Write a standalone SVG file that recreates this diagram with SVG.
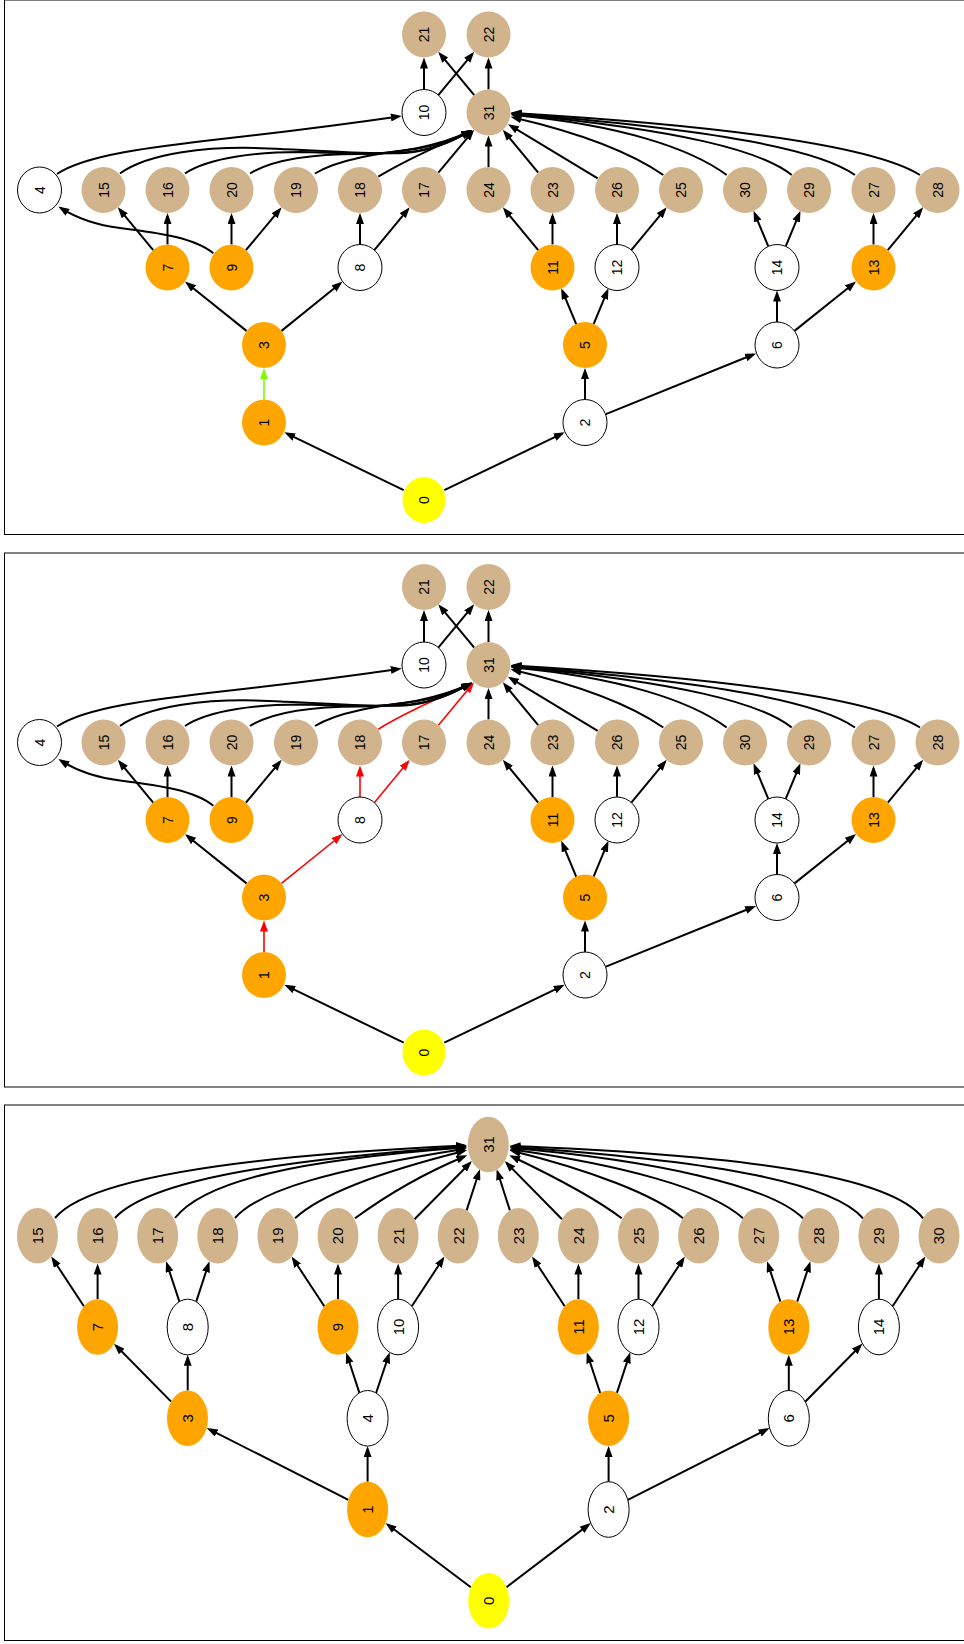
<svg xmlns="http://www.w3.org/2000/svg" width="964" height="1644" viewBox="0 0 964 1644">
<style>
  .frame{fill:none;stroke:#000;stroke-width:1}
  .w{fill:#fff;stroke:#000;stroke-width:1}
  .o{fill:#ffa500}
  .t{fill:#d2b48c}
  .y{fill:#ffff00}
  text{font-family:"Liberation Sans",Arial,sans-serif;font-size:14px;fill:#000;text-anchor:middle}
  .p3 text{font-size:15px}
  .e{fill:none;stroke:#000;stroke-width:2;marker-end:url(#ah)}
  .r{fill:none;stroke:#f00;stroke-width:1.6;marker-end:url(#ahr)}
  .g{fill:none;stroke:#7cfc00;stroke-width:1.6;marker-end:url(#ahg)}
</style>
<defs>
  <marker id="ah" viewBox="0 0 11 8" markerWidth="11" markerHeight="8" refX="8" refY="4" orient="auto" markerUnits="userSpaceOnUse"><path d="M0,0L11,4L0,8z" fill="#000"/></marker>
  <marker id="ahr" viewBox="0 0 11 8" markerWidth="11" markerHeight="8" refX="8" refY="4" orient="auto" markerUnits="userSpaceOnUse"><path d="M0,0L11,4L0,8z" fill="#f00"/></marker>
  <marker id="ahg" viewBox="0 0 11 8" markerWidth="11" markerHeight="8" refX="8" refY="4" orient="auto" markerUnits="userSpaceOnUse"><path d="M0,0L11,4L0,8z" fill="#7cfc00"/></marker>
</defs>
<rect width="964" height="1644" fill="#fff"/>

<!-- frames -->
<rect class="frame" x="4.5" y="0" width="1000" height="534.5"/>
<rect class="frame" x="4.5" y="553" width="1000" height="534"/>
<rect class="frame" x="4.5" y="1105" width="1000" height="535.5"/>

<!-- ===== top graph ===== -->
<g id="graph-a">
  <g id="a-edges">
    <path class="e" d="M403.7,490.2L287,433.6"/>
    <path class="e" d="M444.3,490.2L562,433.6"/>
    <path class="g" d="M264,399.5L264,371"/>
    <path class="e" d="M585,399.5L585,371"/>
    <path class="e" d="M605.9,414.1L753.3,354.5"/>
    <path class="e" d="M246.5,330.9L187.3,283.5"/>
    <path class="e" d="M281.5,330.9L340.2,283.5"/>
    <path class="e" d="M576.3,324.3L562.4,291"/>
    <path class="e" d="M593.6,324.2L607.3,291.1"/>
    <path class="e" d="M777,322L777,293.5"/>
    <path class="e" d="M794.5,330.9L853.7,283.5"/>
    <path class="e" d="M153.2,250.2L119.7,209.6"/>
    <path class="e" d="M167.5,244.5L167.5,216"/>
    <path class="e" d="M231.5,244.5L231.5,216"/>
    <path class="e" d="M245.9,250.2L279.7,209.6"/>
    <path class="e" d="M213.3,253.3C195,238 160,233 120,228C95,225 78,219 60.9,208.2"/>
    <path class="e" d="M360,244.5L360,216"/>
    <path class="e" d="M374.3,250.2L407.8,209.6"/>
    <path class="e" d="M538.2,250.2L504.7,209.6"/>
    <path class="e" d="M552.5,244.5L552.5,216"/>
    <path class="e" d="M617,244.5L617,216"/>
    <path class="e" d="M631.3,250.2L664.8,209.6"/>
    <path class="e" d="M768.4,246.7L754.7,213.6"/>
    <path class="e" d="M785.6,246.7L799.3,213.6"/>
    <path class="e" d="M873.5,244.5L873.5,216"/>
    <path class="e" d="M887.8,250.2L921.3,209.6"/>
    <path class="e" d="M57,174C85,155 150,147 230,138C300,130 360,122 398.8,116.4"/>
    <path class="e" d="M424,89.5L424,60.5"/>
    <path class="e" d="M438.3,95.2L472.3,54.1"/>
    <path class="e" d="M474.2,95.2L440.2,54.1"/>
    <path class="e" d="M488.5,89.5L488.5,60.5"/>
    <path class="e" d="M488.5,167L488.5,138.5"/>
    <path class="e" d="M538.2,172.7L504.7,132.1"/>
    <path class="e" d="M438.4,172.7L472.2,132.1"/>
    <path class="e" d="M378.3,176.7C405,160 440,145 469.5,131.5"/>
    <path class="e" d="M315,173.5C340,158 385,153 415,149C440,145 455,139 469.5,131.5"/>
    <path class="e" d="M250,173.5C275,158 320,154 360,154C395,154 440,146 469.5,131.5"/>
    <path class="e" d="M185,173.5C210,157 260,152 300,152C345,153 380,155 410,152C435,149 452,141 469.5,131.5"/>
    <path class="e" d="M120,173.5C150,152 210,147 255,148C320,150 370,155 405,153C432,151 452,141 469.5,131.5"/>
    <path class="e" d="M597.7,178.4L510.4,125.7"/>
    <path class="e" d="M663.3,175C630,152 580,133 513.4,117.5"/>
    <path class="e" d="M726.7,175C690,148 620,125 513.5,115"/>
    <path class="e" d="M791.7,175C760,150 680,130 513.5,114"/>
    <path class="e" d="M855,175C820,150 720,130 513.5,113.5"/>
    <path class="e" d="M920,175C880,150 760,128 513.5,113"/>
  </g>
  <g id="a-n21" transform="translate(424,34.5)"><ellipse class="t" rx="22" ry="23"/><text transform="rotate(-90)" dy="0.36em">21</text></g>
  <g id="a-n22" transform="translate(488.5,34.5)"><ellipse class="t" rx="22" ry="23"/><text transform="rotate(-90)" dy="0.36em">22</text></g>
  <g id="a-n10" transform="translate(424,112.5)"><ellipse class="w" rx="22" ry="23"/><text transform="rotate(-90)" dy="0.36em">10</text></g>
  <g id="a-n31" transform="translate(488.5,112.5)"><ellipse class="t" rx="22" ry="23"/><text transform="rotate(-90)" dy="0.36em">31</text></g>
  <g id="a-n4" transform="translate(39.5,190)"><ellipse class="w" rx="22" ry="23"/><text transform="rotate(-90)" dy="0.36em">4</text></g>
  <g id="a-n15" transform="translate(103.5,190)"><ellipse class="t" rx="22" ry="23"/><text transform="rotate(-90)" dy="0.36em">15</text></g>
  <g id="a-n16" transform="translate(167.5,190)"><ellipse class="t" rx="22" ry="23"/><text transform="rotate(-90)" dy="0.36em">16</text></g>
  <g id="a-n20" transform="translate(231.5,190)"><ellipse class="t" rx="22" ry="23"/><text transform="rotate(-90)" dy="0.36em">20</text></g>
  <g id="a-n19" transform="translate(296,190)"><ellipse class="t" rx="22" ry="23"/><text transform="rotate(-90)" dy="0.36em">19</text></g>
  <g id="a-n18" transform="translate(360,190)"><ellipse class="t" rx="22" ry="23"/><text transform="rotate(-90)" dy="0.36em">18</text></g>
  <g id="a-n17" transform="translate(424,190)"><ellipse class="t" rx="22" ry="23"/><text transform="rotate(-90)" dy="0.36em">17</text></g>
  <g id="a-n24" transform="translate(488.5,190)"><ellipse class="t" rx="22" ry="23"/><text transform="rotate(-90)" dy="0.36em">24</text></g>
  <g id="a-n23" transform="translate(552.5,190)"><ellipse class="t" rx="22" ry="23"/><text transform="rotate(-90)" dy="0.36em">23</text></g>
  <g id="a-n26" transform="translate(617,190)"><ellipse class="t" rx="22" ry="23"/><text transform="rotate(-90)" dy="0.36em">26</text></g>
  <g id="a-n25" transform="translate(681,190)"><ellipse class="t" rx="22" ry="23"/><text transform="rotate(-90)" dy="0.36em">25</text></g>
  <g id="a-n30" transform="translate(745,190)"><ellipse class="t" rx="22" ry="23"/><text transform="rotate(-90)" dy="0.36em">30</text></g>
  <g id="a-n29" transform="translate(809,190)"><ellipse class="t" rx="22" ry="23"/><text transform="rotate(-90)" dy="0.36em">29</text></g>
  <g id="a-n27" transform="translate(873.5,190)"><ellipse class="t" rx="22" ry="23"/><text transform="rotate(-90)" dy="0.36em">27</text></g>
  <g id="a-n28" transform="translate(937.5,190)"><ellipse class="t" rx="22" ry="23"/><text transform="rotate(-90)" dy="0.36em">28</text></g>
  <g id="a-n7" transform="translate(167.5,267.5)"><ellipse class="o" rx="22" ry="23"/><text transform="rotate(-90)" dy="0.36em">7</text></g>
  <g id="a-n9" transform="translate(231.5,267.5)"><ellipse class="o" rx="22" ry="23"/><text transform="rotate(-90)" dy="0.36em">9</text></g>
  <g id="a-n8" transform="translate(360,267.5)"><ellipse class="w" rx="22" ry="23"/><text transform="rotate(-90)" dy="0.36em">8</text></g>
  <g id="a-n11" transform="translate(552.5,267.5)"><ellipse class="o" rx="22" ry="23"/><text transform="rotate(-90)" dy="0.36em">11</text></g>
  <g id="a-n12" transform="translate(617,267.5)"><ellipse class="w" rx="22" ry="23"/><text transform="rotate(-90)" dy="0.36em">12</text></g>
  <g id="a-n14" transform="translate(777,267.5)"><ellipse class="w" rx="22" ry="23"/><text transform="rotate(-90)" dy="0.36em">14</text></g>
  <g id="a-n13" transform="translate(873.5,267.5)"><ellipse class="o" rx="22" ry="23"/><text transform="rotate(-90)" dy="0.36em">13</text></g>
  <g id="a-n3" transform="translate(264,345)"><ellipse class="o" rx="22" ry="23"/><text transform="rotate(-90)" dy="0.36em">3</text></g>
  <g id="a-n5" transform="translate(585,345)"><ellipse class="o" rx="22" ry="23"/><text transform="rotate(-90)" dy="0.36em">5</text></g>
  <g id="a-n6" transform="translate(777,345)"><ellipse class="w" rx="22" ry="23"/><text transform="rotate(-90)" dy="0.36em">6</text></g>
  <g id="a-n1" transform="translate(264,422.5)"><ellipse class="o" rx="22" ry="23"/><text transform="rotate(-90)" dy="0.36em">1</text></g>
  <g id="a-n2" transform="translate(585,422.5)"><ellipse class="w" rx="22" ry="23"/><text transform="rotate(-90)" dy="0.36em">2</text></g>
  <g id="a-n0" transform="translate(424,500)"><ellipse class="y" rx="21.5" ry="23"/><text transform="rotate(-90)" dy="0.36em">0</text></g>
</g>

<!-- ===== middle graph (same layout, highlighted path in red) ===== -->
<g id="graph-b" transform="translate(0,552.5)">
  <g id="b-edges">
    <path class="e" d="M403.7,490.2L287,433.6"/>
    <path class="e" d="M444.3,490.2L562,433.6"/>
    <path class="r" d="M264,399.5L264,371"/>
    <path class="e" d="M585,399.5L585,371"/>
    <path class="e" d="M605.9,414.1L753.3,354.5"/>
    <path class="e" d="M246.5,330.9L187.3,283.5"/>
    <path class="r" d="M281.5,330.9L340.2,283.5"/>
    <path class="e" d="M576.3,324.3L562.4,291"/>
    <path class="e" d="M593.6,324.2L607.3,291.1"/>
    <path class="e" d="M777,322L777,293.5"/>
    <path class="e" d="M794.5,330.9L853.7,283.5"/>
    <path class="e" d="M153.2,250.2L119.7,209.6"/>
    <path class="e" d="M167.5,244.5L167.5,216"/>
    <path class="e" d="M231.5,244.5L231.5,216"/>
    <path class="e" d="M245.9,250.2L279.7,209.6"/>
    <path class="e" d="M213.3,253.3C195,238 160,233 120,228C95,225 78,219 60.9,208.2"/>
    <path class="r" d="M360,244.5L360,216"/>
    <path class="r" d="M374.3,250.2L407.8,209.6"/>
    <path class="e" d="M538.2,250.2L504.7,209.6"/>
    <path class="e" d="M552.5,244.5L552.5,216"/>
    <path class="e" d="M617,244.5L617,216"/>
    <path class="e" d="M631.3,250.2L664.8,209.6"/>
    <path class="e" d="M768.4,246.7L754.7,213.6"/>
    <path class="e" d="M785.6,246.7L799.3,213.6"/>
    <path class="e" d="M873.5,244.5L873.5,216"/>
    <path class="e" d="M887.8,250.2L921.3,209.6"/>
    <path class="e" d="M57,174C85,155 150,147 230,138C300,130 360,122 398.8,116.4"/>
    <path class="e" d="M424,89.5L424,60.5"/>
    <path class="e" d="M438.3,95.2L472.3,54.1"/>
    <path class="e" d="M474.2,95.2L440.2,54.1"/>
    <path class="e" d="M488.5,89.5L488.5,60.5"/>
    <path class="e" d="M488.5,167L488.5,138.5"/>
    <path class="e" d="M538.2,172.7L504.7,132.1"/>
    <path class="r" d="M438.4,172.7L472.2,132.1"/>
    <path class="r" d="M378.3,176.7C405,160 440,145 469.5,131.5"/>
    <path class="e" d="M315,173.5C340,158 385,153 415,149C440,145 455,139 469.5,131.5"/>
    <path class="e" d="M250,173.5C275,158 320,154 360,154C395,154 440,146 469.5,131.5"/>
    <path class="e" d="M185,173.5C210,157 260,152 300,152C345,153 380,155 410,152C435,149 452,141 469.5,131.5"/>
    <path class="e" d="M120,173.5C150,152 210,147 255,148C320,150 370,155 405,153C432,151 452,141 469.5,131.5"/>
    <path class="e" d="M597.7,178.4L510.4,125.7"/>
    <path class="e" d="M663.3,175C630,152 580,133 513.4,117.5"/>
    <path class="e" d="M726.7,175C690,148 620,125 513.5,115"/>
    <path class="e" d="M791.7,175C760,150 680,130 513.5,114"/>
    <path class="e" d="M855,175C820,150 720,130 513.5,113.5"/>
    <path class="e" d="M920,175C880,150 760,128 513.5,113"/>
  </g>
  <g id="b-n21" transform="translate(424,34.5)"><ellipse class="t" rx="22" ry="23"/><text transform="rotate(-90)" dy="0.36em">21</text></g>
  <g id="b-n22" transform="translate(488.5,34.5)"><ellipse class="t" rx="22" ry="23"/><text transform="rotate(-90)" dy="0.36em">22</text></g>
  <g id="b-n10" transform="translate(424,112.5)"><ellipse class="w" rx="22" ry="23"/><text transform="rotate(-90)" dy="0.36em">10</text></g>
  <g id="b-n31" transform="translate(488.5,112.5)"><ellipse class="t" rx="22" ry="23"/><text transform="rotate(-90)" dy="0.36em">31</text></g>
  <g id="b-n4" transform="translate(39.5,190)"><ellipse class="w" rx="22" ry="23"/><text transform="rotate(-90)" dy="0.36em">4</text></g>
  <g id="b-n15" transform="translate(103.5,190)"><ellipse class="t" rx="22" ry="23"/><text transform="rotate(-90)" dy="0.36em">15</text></g>
  <g id="b-n16" transform="translate(167.5,190)"><ellipse class="t" rx="22" ry="23"/><text transform="rotate(-90)" dy="0.36em">16</text></g>
  <g id="b-n20" transform="translate(231.5,190)"><ellipse class="t" rx="22" ry="23"/><text transform="rotate(-90)" dy="0.36em">20</text></g>
  <g id="b-n19" transform="translate(296,190)"><ellipse class="t" rx="22" ry="23"/><text transform="rotate(-90)" dy="0.36em">19</text></g>
  <g id="b-n18" transform="translate(360,190)"><ellipse class="t" rx="22" ry="23"/><text transform="rotate(-90)" dy="0.36em">18</text></g>
  <g id="b-n17" transform="translate(424,190)"><ellipse class="t" rx="22" ry="23"/><text transform="rotate(-90)" dy="0.36em">17</text></g>
  <g id="b-n24" transform="translate(488.5,190)"><ellipse class="t" rx="22" ry="23"/><text transform="rotate(-90)" dy="0.36em">24</text></g>
  <g id="b-n23" transform="translate(552.5,190)"><ellipse class="t" rx="22" ry="23"/><text transform="rotate(-90)" dy="0.36em">23</text></g>
  <g id="b-n26" transform="translate(617,190)"><ellipse class="t" rx="22" ry="23"/><text transform="rotate(-90)" dy="0.36em">26</text></g>
  <g id="b-n25" transform="translate(681,190)"><ellipse class="t" rx="22" ry="23"/><text transform="rotate(-90)" dy="0.36em">25</text></g>
  <g id="b-n30" transform="translate(745,190)"><ellipse class="t" rx="22" ry="23"/><text transform="rotate(-90)" dy="0.36em">30</text></g>
  <g id="b-n29" transform="translate(809,190)"><ellipse class="t" rx="22" ry="23"/><text transform="rotate(-90)" dy="0.36em">29</text></g>
  <g id="b-n27" transform="translate(873.5,190)"><ellipse class="t" rx="22" ry="23"/><text transform="rotate(-90)" dy="0.36em">27</text></g>
  <g id="b-n28" transform="translate(937.5,190)"><ellipse class="t" rx="22" ry="23"/><text transform="rotate(-90)" dy="0.36em">28</text></g>
  <g id="b-n7" transform="translate(167.5,267.5)"><ellipse class="o" rx="22" ry="23"/><text transform="rotate(-90)" dy="0.36em">7</text></g>
  <g id="b-n9" transform="translate(231.5,267.5)"><ellipse class="o" rx="22" ry="23"/><text transform="rotate(-90)" dy="0.36em">9</text></g>
  <g id="b-n8" transform="translate(360,267.5)"><ellipse class="w" rx="22" ry="23"/><text transform="rotate(-90)" dy="0.36em">8</text></g>
  <g id="b-n11" transform="translate(552.5,267.5)"><ellipse class="o" rx="22" ry="23"/><text transform="rotate(-90)" dy="0.36em">11</text></g>
  <g id="b-n12" transform="translate(617,267.5)"><ellipse class="w" rx="22" ry="23"/><text transform="rotate(-90)" dy="0.36em">12</text></g>
  <g id="b-n14" transform="translate(777,267.5)"><ellipse class="w" rx="22" ry="23"/><text transform="rotate(-90)" dy="0.36em">14</text></g>
  <g id="b-n13" transform="translate(873.5,267.5)"><ellipse class="o" rx="22" ry="23"/><text transform="rotate(-90)" dy="0.36em">13</text></g>
  <g id="b-n3" transform="translate(264,345)"><ellipse class="o" rx="22" ry="23"/><text transform="rotate(-90)" dy="0.36em">3</text></g>
  <g id="b-n5" transform="translate(585,345)"><ellipse class="o" rx="22" ry="23"/><text transform="rotate(-90)" dy="0.36em">5</text></g>
  <g id="b-n6" transform="translate(777,345)"><ellipse class="w" rx="22" ry="23"/><text transform="rotate(-90)" dy="0.36em">6</text></g>
  <g id="b-n1" transform="translate(264,422.5)"><ellipse class="o" rx="22" ry="23"/><text transform="rotate(-90)" dy="0.36em">1</text></g>
  <g id="b-n2" transform="translate(585,422.5)"><ellipse class="w" rx="22" ry="23"/><text transform="rotate(-90)" dy="0.36em">2</text></g>
  <g id="b-n0" transform="translate(424,500)"><ellipse class="y" rx="21.5" ry="23"/><text transform="rotate(-90)" dy="0.36em">0</text></g>
</g>

<!-- ===== bottom graph (binomial tree) ===== -->
<g id="graph-c" class="p3">
  <g id="c-edges">
    <path class="e" d="M470.8,1587.3L387.9,1524.8"/>
    <path class="e" d="M506.5,1587.2L588.4,1524.9"/>
    <path class="e" d="M367.6,1481.7L367.6,1449.1"/>
    <path class="e" d="M348.4,1499.8L209.4,1429.4"/>
    <path class="e" d="M608.6,1481.7L608.6,1449.1"/>
    <path class="e" d="M627.8,1499.8L766.9,1429.4"/>
    <path class="e" d="M171.1,1401.6L116.1,1345.8"/>
    <path class="e" d="M187.7,1390.5L187.7,1357.8"/>
    <path class="e" d="M359.4,1392.9L347.1,1355.3"/>
    <path class="e" d="M376.1,1393L388.7,1355.2"/>
    <path class="e" d="M600.2,1393L587.7,1355.1"/>
    <path class="e" d="M616.9,1392.9L629.3,1355.2"/>
    <path class="e" d="M788.8,1390.5L788.8,1357.8"/>
    <path class="e" d="M805.2,1401.7L860.4,1345.7"/>
    <path class="e" d="M83.9,1306.3L52.85,1259"/>
    <path class="e" d="M97.6,1299.2L97.6,1266.6"/>
    <path class="e" d="M179.4,1301.6L167,1264.1"/>
    <path class="e" d="M196.2,1301.6L208.5,1264.1"/>
    <path class="e" d="M324.3,1306.3L293.25,1259"/>
    <path class="e" d="M338,1299.2L338,1266.6"/>
    <path class="e" d="M398.1,1299.2L398.1,1266.6"/>
    <path class="e" d="M411.8,1306.3L442.85,1259"/>
    <path class="e" d="M564.7,1306.3L533.65,1259"/>
    <path class="e" d="M578.4,1299.2L578.4,1266.6"/>
    <path class="e" d="M638.5,1299.2L638.5,1266.6"/>
    <path class="e" d="M652.2,1306.3L683.25,1259"/>
    <path class="e" d="M780.4,1301.6L768,1264.1"/>
    <path class="e" d="M797.2,1301.6L809.5,1264.1"/>
    <path class="e" d="M878.9,1299.2L878.9,1266.6"/>
    <path class="e" d="M892.6,1306.3L923.65,1259"/>
    <path class="e" d="M55,1218C90,1175 260,1155 464,1145.5"/>
    <path class="e" d="M115,1218C150,1180 280,1160 464,1146.5"/>
    <path class="e" d="M175,1218C205,1180 300,1160 464,1147.5"/>
    <path class="e" d="M235,1218C260,1190 330,1170 464,1149"/>
    <path class="e" d="M295,1218.3C320,1195 380,1172 464,1151"/>
    <path class="e" d="M355,1218.3C380,1200 420,1175 464.5,1156.5"/>
    <path class="e" d="M414.5,1219.2L469.8,1163.2"/>
    <path class="e" d="M466.6,1210.4L479,1172"/>
    <path class="e" d="M509.9,1210.4L497.6,1172"/>
    <path class="e" d="M562,1219.2L506.8,1163.2"/>
    <path class="e" d="M621.7,1218.3C595,1198 555,1177 512,1156.5"/>
    <path class="e" d="M683,1218.3C655,1195 590,1170 512.5,1151"/>
    <path class="e" d="M743,1218.3C710,1188 620,1165 512.5,1149.5"/>
    <path class="e" d="M803,1218.3C770,1185 650,1160 512.5,1148"/>
    <path class="e" d="M863,1218.3C830,1180 700,1160 512.5,1147"/>
    <path class="e" d="M923,1218.3C890,1175 740,1155 512.5,1146"/>
  </g>
  <g id="c-n31" transform="translate(488.3,1144.5)"><ellipse class="t" rx="20.5" ry="27.8"/><text transform="rotate(-90)" dy="0.36em">31</text></g>
  <g id="c-n15" transform="translate(37.5,1235.8)"><ellipse class="t" rx="20.5" ry="27.8"/><text transform="rotate(-90)" dy="0.36em">15</text></g>
  <g id="c-n16" transform="translate(97.6,1235.8)"><ellipse class="t" rx="20.5" ry="27.8"/><text transform="rotate(-90)" dy="0.36em">16</text></g>
  <g id="c-n17" transform="translate(157.7,1235.8)"><ellipse class="t" rx="20.5" ry="27.8"/><text transform="rotate(-90)" dy="0.36em">17</text></g>
  <g id="c-n18" transform="translate(217.8,1235.8)"><ellipse class="t" rx="20.5" ry="27.8"/><text transform="rotate(-90)" dy="0.36em">18</text></g>
  <g id="c-n19" transform="translate(277.9,1235.8)"><ellipse class="t" rx="20.5" ry="27.8"/><text transform="rotate(-90)" dy="0.36em">19</text></g>
  <g id="c-n20" transform="translate(338,1235.8)"><ellipse class="t" rx="20.5" ry="27.8"/><text transform="rotate(-90)" dy="0.36em">20</text></g>
  <g id="c-n21" transform="translate(398.1,1235.8)"><ellipse class="t" rx="20.5" ry="27.8"/><text transform="rotate(-90)" dy="0.36em">21</text></g>
  <g id="c-n22" transform="translate(458.2,1235.8)"><ellipse class="t" rx="20.5" ry="27.8"/><text transform="rotate(-90)" dy="0.36em">22</text></g>
  <g id="c-n23" transform="translate(518.3,1235.8)"><ellipse class="t" rx="20.5" ry="27.8"/><text transform="rotate(-90)" dy="0.36em">23</text></g>
  <g id="c-n24" transform="translate(578.4,1235.8)"><ellipse class="t" rx="20.5" ry="27.8"/><text transform="rotate(-90)" dy="0.36em">24</text></g>
  <g id="c-n25" transform="translate(638.5,1235.8)"><ellipse class="t" rx="20.5" ry="27.8"/><text transform="rotate(-90)" dy="0.36em">25</text></g>
  <g id="c-n26" transform="translate(698.6,1235.8)"><ellipse class="t" rx="20.5" ry="27.8"/><text transform="rotate(-90)" dy="0.36em">26</text></g>
  <g id="c-n27" transform="translate(758.7,1235.8)"><ellipse class="t" rx="20.5" ry="27.8"/><text transform="rotate(-90)" dy="0.36em">27</text></g>
  <g id="c-n28" transform="translate(818.8,1235.8)"><ellipse class="t" rx="20.5" ry="27.8"/><text transform="rotate(-90)" dy="0.36em">28</text></g>
  <g id="c-n29" transform="translate(878.9,1235.8)"><ellipse class="t" rx="20.5" ry="27.8"/><text transform="rotate(-90)" dy="0.36em">29</text></g>
  <g id="c-n30" transform="translate(939,1235.8)"><ellipse class="t" rx="20.5" ry="27.8"/><text transform="rotate(-90)" dy="0.36em">30</text></g>
  <g id="c-n7" transform="translate(97.6,1327)"><ellipse class="o" rx="20.5" ry="27.8"/><text transform="rotate(-90)" dy="0.36em">7</text></g>
  <g id="c-n8" transform="translate(187.7,1327)"><ellipse class="w" rx="20.5" ry="27.8"/><text transform="rotate(-90)" dy="0.36em">8</text></g>
  <g id="c-n9" transform="translate(338,1327)"><ellipse class="o" rx="20.5" ry="27.8"/><text transform="rotate(-90)" dy="0.36em">9</text></g>
  <g id="c-n10" transform="translate(398.1,1327)"><ellipse class="w" rx="20.5" ry="27.8"/><text transform="rotate(-90)" dy="0.36em">10</text></g>
  <g id="c-n11" transform="translate(578.4,1327)"><ellipse class="o" rx="20.5" ry="27.8"/><text transform="rotate(-90)" dy="0.36em">11</text></g>
  <g id="c-n12" transform="translate(638.5,1327)"><ellipse class="w" rx="20.5" ry="27.8"/><text transform="rotate(-90)" dy="0.36em">12</text></g>
  <g id="c-n13" transform="translate(788.8,1327)"><ellipse class="o" rx="20.5" ry="27.8"/><text transform="rotate(-90)" dy="0.36em">13</text></g>
  <g id="c-n14" transform="translate(878.9,1327)"><ellipse class="w" rx="20.5" ry="27.8"/><text transform="rotate(-90)" dy="0.36em">14</text></g>
  <g id="c-n3" transform="translate(187.5,1418.3)"><ellipse class="o" rx="20.5" ry="27.8"/><text transform="rotate(-90)" dy="0.36em">3</text></g>
  <g id="c-n4" transform="translate(367.6,1418.3)"><ellipse class="w" rx="20.5" ry="27.8"/><text transform="rotate(-90)" dy="0.36em">4</text></g>
  <g id="c-n5" transform="translate(608.6,1418.3)"><ellipse class="o" rx="20.5" ry="27.8"/><text transform="rotate(-90)" dy="0.36em">5</text></g>
  <g id="c-n6" transform="translate(788.8,1418.3)"><ellipse class="w" rx="20.5" ry="27.8"/><text transform="rotate(-90)" dy="0.36em">6</text></g>
  <g id="c-n1" transform="translate(367.6,1509.5)"><ellipse class="o" rx="20.5" ry="27.8"/><text transform="rotate(-90)" dy="0.36em">1</text></g>
  <g id="c-n2" transform="translate(608.6,1509.5)"><ellipse class="w" rx="20.5" ry="27.8"/><text transform="rotate(-90)" dy="0.36em">2</text></g>
  <g id="c-n0" transform="translate(488.7,1600.8)"><ellipse class="y" rx="20.5" ry="27.8"/><text transform="rotate(-90)" dy="0.36em">0</text></g>
</g>
</svg>
